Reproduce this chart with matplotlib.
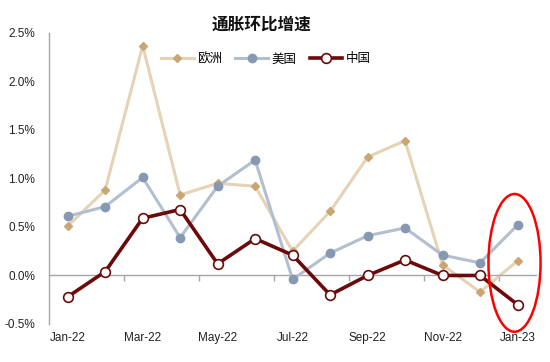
import matplotlib
matplotlib.use("Agg")
import matplotlib.pyplot as plt
from matplotlib.patches import Ellipse
import numpy as np

plt.rcParams['font.family'] = ['Liberation Sans', 'Noto Sans CJK SC', 'DejaVu Sans']

months = ["Jan-22", "Feb-22", "Mar-22", "Apr-22", "May-22", "Jun-22", "Jul-22",
          "Aug-22", "Sep-22", "Oct-22", "Nov-22", "Dec-22", "Jan-23"]
europe = [0.51, 0.88, 2.37, 0.83, 0.95, 0.92, 0.25, 0.66, 1.22, 1.39, 0.11, -0.17, 0.15]
usa = [0.61, 0.71, 1.01, 0.39, 0.92, 1.19, -0.04, 0.23, 0.41, 0.49, 0.21, 0.13, 0.52]
china = [-0.22, 0.04, 0.59, 0.68, 0.12, 0.38, 0.21, -0.20, 0.00, 0.16, 0.00, 0.00, -0.30]
series_names = ["欧洲", "美国", "中国"]
title = "通胀环比增速"
yticks = [-0.5, 0.0, 0.5, 1.0, 1.5, 2.0, 2.5]

x = np.arange(len(months))

fig = plt.figure(figsize=(5.5, 3.62), dpi=100)
ax = fig.add_axes([0.089, 0.105, 0.886, 0.804])

ax.plot(x, europe, color="#E6D3B5", lw=2.2, marker="D", ms=4,
        mfc="#C9A673", mec="#C9A673", label=series_names[0], zorder=2)
ax.plot(x, usa, color="#B2BFD0", lw=2.2, marker="o", ms=6,
        mfc="#8798B2", mec="#8798B2", label=series_names[1], zorder=3)
ax.plot(x, china, color="#6B0A0A", lw=2.6, marker="o", ms=7,
        mfc="white", mec="#6B0A0A", mew=1.2, label=series_names[2], zorder=4)

ax.set_xlim(-0.5, len(months) - 0.5)
ax.set_ylim(-0.5, 2.5)
ax.set_yticks(yticks)
ax.set_yticklabels([f"{v:.1f}%" for v in yticks], fontsize=8.5, color="#222222")
ax.tick_params(axis="y", length=0, pad=10)

for s in ["top", "right"]:
    ax.spines[s].set_visible(False)
ax.spines["left"].set_color("#A6A6A6")
ax.spines["left"].set_linewidth(1.0)
ax.spines["bottom"].set_position(("data", 0))
ax.spines["bottom"].set_color("#A6A6A6")
ax.spines["bottom"].set_linewidth(1.0)
ax.set_xticks(np.arange(1.5, len(months) - 1, 2))
ax.set_xticklabels([])
ax.tick_params(axis="x", direction="out", length=4, color="#A6A6A6", width=1.0)

sec = ax.secondary_xaxis("bottom")
sec.set_xticks(x[::2])
sec.set_xticklabels(months[::2], fontsize=8.5, color="#222222")
sec.tick_params(length=0, pad=6)
sec.spines["bottom"].set_visible(False)

fig.text(0.476, 0.931, title, fontsize=12, fontweight="bold",
         family=["Noto Sans CJK SC"], ha="center", va="center", color="#111111")

leg = ax.legend(loc="upper center", bbox_to_anchor=(0.445, 0.972), ncol=3, frameon=False,
                handlelength=2.6, columnspacing=1.1, handletextpad=0.25,
                prop={"family": ["Noto Sans CJK SC"], "size": 9})

ell = Ellipse((len(months) - 1.08, 0.13), width=1.39, height=1.42, fill=False,
              edgecolor="#FF0000", lw=1.8, zorder=5, clip_on=False)
ax.add_patch(ell)

fig.savefig("out.png", dpi=100)
